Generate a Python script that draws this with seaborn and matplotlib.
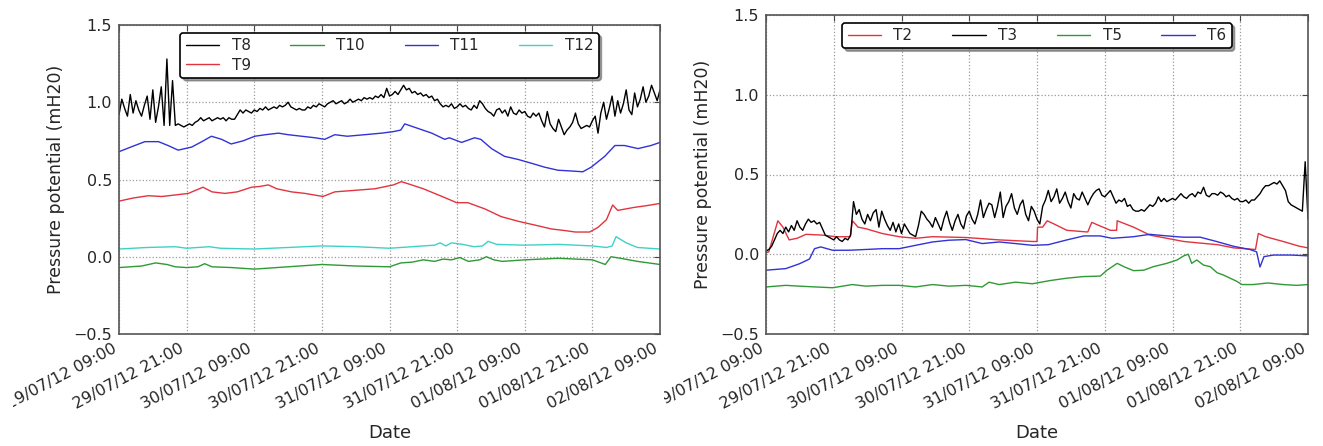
import matplotlib
matplotlib.use("Agg")
import matplotlib.dates as mdates
import matplotlib.pyplot as plt
import numpy as np
import pandas as pd
import seaborn as sns
from matplotlib.transforms import Bbox

START = pd.Timestamp("2012-07-29 09:00")
END = pd.Timestamp("2012-08-02 09:00")

# ---- left panel ----
# T8 read every half hour from 29/07 09:00
t8_vals = [
    0.92, 1.02, 0.96, 0.91, 1.05, 0.93, 1.01, 0.95, 0.91, 0.98, 1.04, 0.89,
    1.08, 0.87, 0.97, 1.10, 0.85, 1.28, 0.85, 1.14, 0.85, 0.86, 0.85, 0.84,
    0.85, 0.86, 0.85, 0.87, 0.88, 0.90, 0.88, 0.89, 0.90, 0.88, 0.89, 0.90,
    0.89, 0.90, 0.88, 0.90, 0.89, 0.89, 0.92, 0.95, 0.93, 0.95, 0.94, 0.93,
    0.95, 0.94, 0.96, 0.95, 0.97, 0.95, 0.96, 0.97, 0.96, 0.98, 0.97, 0.98,
    1.00, 0.97, 0.96, 0.95, 0.96, 0.95, 0.95, 0.97, 0.96, 0.98, 0.97, 0.99,
    0.98, 0.97, 0.99, 1.00, 1.01, 0.99, 1.00, 1.01, 0.99, 1.00, 1.02, 1.00,
    1.01, 1.02, 1.01, 1.03, 1.02, 1.03, 1.02, 1.04, 1.03, 1.05, 1.03, 1.09,
    1.04, 1.05, 1.07, 1.05, 1.08, 1.11, 1.08, 1.09, 1.06, 1.07, 1.05, 1.06,
    1.04, 1.05, 1.03, 1.04, 1.01, 1.02, 0.99, 0.97, 0.98, 0.97, 0.99, 0.96,
    0.97, 0.99, 0.97, 0.98, 0.96, 0.95, 0.98, 0.96, 1.01, 0.99, 0.96, 0.94,
    0.93, 0.91, 0.95, 0.96, 0.93, 0.95, 0.91, 0.97, 0.93, 0.92, 0.95, 0.93,
    0.94, 0.91, 0.90, 0.93, 0.91, 0.93, 0.88, 0.84, 0.94, 0.86, 0.83, 0.81,
    0.89, 0.84, 0.79, 0.82, 0.84, 0.87, 0.93, 0.86, 0.83, 0.84, 0.85, 0.84,
    0.88, 0.91, 0.80, 0.93, 1.00, 0.89, 0.96, 1.04, 0.91, 1.01, 0.93, 0.99,
    1.08, 0.95, 0.92, 1.06, 0.97, 1.02, 1.10, 1.00, 1.04, 1.11, 1.06, 1.01,
    1.08,
]
t8_hours = np.arange(len(t8_vals)) * 0.5

t9_hours = [0, 2.5, 5.2, 7.6, 10.0, 12.3, 14.9, 16.5, 18.8, 21.0, 23.5, 25.0,
            26.5, 28.0, 30.6, 33.0, 36.2, 38.3, 41.9, 45.4, 48.7, 50.1, 51.5,
            54.0, 56.0, 58.0, 59.9, 61.9, 64.9, 67.8, 70.8, 73.8, 76.7, 79.0,
            81.0, 83.5, 85.0, 86.5, 87.6, 88.5, 90.0, 91.5, 93.5, 96.0]
t9_vals = [0.36, 0.38, 0.395, 0.39, 0.40, 0.41, 0.45, 0.42, 0.41, 0.42, 0.45,
           0.455, 0.465, 0.44, 0.42, 0.41, 0.39, 0.42, 0.43, 0.44, 0.465,
           0.486, 0.47, 0.44, 0.41, 0.38, 0.35, 0.35, 0.31, 0.26, 0.23, 0.205,
           0.18, 0.17, 0.16, 0.16, 0.19, 0.24, 0.335, 0.30, 0.31, 0.32, 0.33,
           0.345]

t10_hours = [0, 4, 6.5, 8.5, 10, 12, 14, 15.2, 16.5, 20, 24, 30, 36, 42, 48,
             50, 52, 54, 56, 57.5, 59, 60.5, 62, 64, 65.2, 66.5, 68, 72, 78,
             84, 86.3, 87.3, 89, 92, 96]
t10_vals = [-0.07, -0.06, -0.04, -0.05, -0.065, -0.07, -0.065, -0.045, -0.065,
            -0.07, -0.08, -0.065, -0.05, -0.06, -0.065, -0.04, -0.035, -0.02,
            -0.03, -0.015, -0.02, -0.005, -0.03, -0.02, 0.0, -0.02, -0.03,
            -0.02, -0.01, -0.02, -0.05, 0.0, -0.01, -0.03, -0.05]

t11_hours = [0, 2.8, 4.6, 7.0, 8.7, 10.5, 12.9, 14.7, 16.4, 18.2, 19.9, 22.0,
             24.1, 26.0, 28.3, 30.0, 32.4, 34.8, 36.5, 38.3, 40.5, 43.6, 46.6,
             48.7, 50.0, 50.7, 51.5, 53.1, 55.5, 57.8, 58.6, 60.8, 63.1, 64.2,
             66.1, 68.4, 70.8, 73.2, 75.5, 77.9, 80.3, 82.3, 83.8, 86.2, 88.0,
             89.7, 92.1, 94.4, 96.0]
t11_vals = [0.68, 0.72, 0.745, 0.745, 0.72, 0.69, 0.71, 0.745, 0.78, 0.76,
            0.73, 0.75, 0.78, 0.79, 0.80, 0.79, 0.78, 0.77, 0.76, 0.79, 0.78,
            0.79, 0.80, 0.81, 0.82, 0.86, 0.85, 0.83, 0.80, 0.76, 0.77, 0.74,
            0.77, 0.76, 0.70, 0.65, 0.63, 0.605, 0.58, 0.56, 0.555, 0.55, 0.58,
            0.65, 0.72, 0.72, 0.70, 0.72, 0.74]

t12_hours = [0, 5, 10, 12, 16, 18, 24, 30, 36, 42, 48, 54, 56, 57, 58, 59, 61,
             63, 64.5, 65.5, 67, 72, 78, 84, 86.5, 87.5, 88.2, 90, 92, 96]
t12_vals = [0.05, 0.06, 0.065, 0.055, 0.065, 0.055, 0.05, 0.06, 0.07, 0.065,
            0.055, 0.07, 0.075, 0.09, 0.07, 0.09, 0.08, 0.065, 0.07, 0.10,
            0.08, 0.075, 0.08, 0.07, 0.06, 0.07, 0.13, 0.09, 0.06, 0.05]

# ---- right panel ----
t2_hours = [0, 0.5, 2.1, 3.0, 4.1, 5.5, 7.1, 10.0, 12.4, 14.9, 15.3, 16.3,
            17.7, 20.6, 23.6, 26.5, 29.5, 35.4, 41.3, 47.2, 48.0, 48.1, 49.0,
            49.8, 51.0, 53.3, 56.8, 57.0, 57.7, 59.0, 61.0, 62.1, 62.2, 65.1,
            68.0, 71.0, 74.0, 76.9, 80.0, 82.8, 86.6, 86.7, 87.2, 88.5, 91.6,
            94.5, 96.0]
t2_vals = [0.01, 0.015, 0.21, 0.17, 0.09, 0.10, 0.125, 0.12, 0.11, 0.11, 0.21,
           0.17, 0.16, 0.13, 0.11, 0.10, 0.11, 0.105, 0.09, 0.08, 0.08, 0.17,
           0.17, 0.21, 0.19, 0.15, 0.14, 0.14, 0.20, 0.18, 0.15, 0.15, 0.21,
           0.17, 0.12, 0.10, 0.08, 0.07, 0.06, 0.04, 0.03, 0.03, 0.13, 0.11,
           0.08, 0.05, 0.04]

# T3 read every half hour
t3_vals = [
    0.02, 0.03, 0.05, 0.09, 0.13, 0.15, 0.13, 0.17, 0.14, 0.18, 0.15, 0.21,
    0.17, 0.15, 0.19, 0.22, 0.20, 0.21, 0.19, 0.20, 0.16, 0.12, 0.11, 0.10,
    0.09, 0.11, 0.09, 0.08, 0.10, 0.09, 0.12, 0.33, 0.25, 0.28, 0.22, 0.19,
    0.25, 0.21, 0.26, 0.28, 0.17, 0.27, 0.22, 0.18, 0.15, 0.20, 0.14, 0.19,
    0.13, 0.19, 0.16, 0.13, 0.12, 0.11, 0.18, 0.27, 0.25, 0.22, 0.20, 0.17,
    0.23, 0.19, 0.15, 0.22, 0.27, 0.20, 0.15, 0.21, 0.25, 0.19, 0.16, 0.24,
    0.27, 0.22, 0.19, 0.25, 0.34, 0.23, 0.28, 0.32, 0.31, 0.23, 0.30, 0.39,
    0.23, 0.30, 0.33, 0.38, 0.29, 0.25, 0.31, 0.34, 0.25, 0.21, 0.30, 0.27,
    0.22, 0.19, 0.30, 0.34, 0.40, 0.33, 0.36, 0.41, 0.32, 0.35, 0.39, 0.33,
    0.29, 0.38, 0.35, 0.34, 0.39, 0.35, 0.31, 0.35, 0.38, 0.40, 0.41, 0.37,
    0.36, 0.38, 0.40, 0.36, 0.32, 0.34, 0.33, 0.35, 0.30, 0.31, 0.28, 0.27,
    0.27, 0.28, 0.27, 0.29, 0.31, 0.30, 0.32, 0.36, 0.33, 0.35, 0.33, 0.34,
    0.35, 0.34, 0.36, 0.38, 0.36, 0.35, 0.37, 0.38, 0.36, 0.39, 0.38, 0.42,
    0.37, 0.36, 0.38, 0.38, 0.37, 0.39, 0.38, 0.36, 0.37, 0.35, 0.34, 0.35,
    0.33, 0.33, 0.34, 0.32, 0.34, 0.34, 0.36, 0.38, 0.41, 0.43, 0.43, 0.44,
    0.45, 0.44, 0.46, 0.43, 0.40, 0.33, 0.31, 0.30, 0.29, 0.28, 0.27, 0.58,
    0.22,
]
t3_hours = np.arange(len(t3_vals)) * 0.5

t5_hours = [0, 3.5, 5.9, 8.8, 11.8, 15.3, 17.7, 20.6, 23.6, 26.5, 29.5, 32.4,
            35.4, 38.3, 39.5, 41.3, 44.2, 47.2, 50.3, 53.3, 56.2, 59.2, 60.4,
            62.2, 63.4, 65.1, 66.9, 68.6, 71.0, 72.8, 74.0, 74.8, 75.4, 76.3,
            77.5, 78.7, 79.9, 81.0, 82.2, 83.4, 84.3, 86.3, 88.9, 91.6, 94.0,
            96.0]
t5_vals = [-0.205, -0.195, -0.2, -0.205, -0.21, -0.19, -0.2, -0.195, -0.195,
           -0.205, -0.19, -0.2, -0.195, -0.205, -0.175, -0.19, -0.175, -0.185,
           -0.165, -0.15, -0.14, -0.137, -0.10, -0.057, -0.078, -0.103, -0.10,
           -0.078, -0.057, -0.036, -0.01, 0.0, -0.057, -0.036, -0.068, -0.078,
           -0.116, -0.13, -0.15, -0.17, -0.19, -0.19, -0.18, -0.19, -0.195,
           -0.19]

t6_hours = [0, 3.5, 5.9, 7.7, 8.6, 9.7, 11.8, 14.7, 17.7, 20.6, 23.6, 26.5,
            29.5, 32.4, 35.4, 38.3, 41.3, 44.2, 47.2, 50.0, 53.3, 56.3, 59.2,
            61.3, 65.1, 68.0, 71.0, 73.9, 76.9, 79.8, 82.8, 85.7, 86.9, 87.5,
            88.2, 89.9, 93.0, 96.0]
t6_vals = [-0.1, -0.09, -0.06, -0.03, 0.035, 0.046, 0.025, 0.025, 0.03, 0.035,
           0.035, 0.056, 0.077, 0.088, 0.092, 0.067, 0.077, 0.067, 0.056, 0.06,
           0.09, 0.115, 0.115, 0.10, 0.11, 0.125, 0.115, 0.107, 0.107, 0.08,
           0.05, 0.03, 0.015, -0.08, -0.015, -0.005, -0.005, -0.01]

left_series = {
    "T8": (t8_hours, t8_vals),
    "T9": (t9_hours, t9_vals),
    "T10": (t10_hours, t10_vals),
    "T11": (t11_hours, t11_vals),
    "T12": (t12_hours, t12_vals),
}
right_series = {
    "T2": (t2_hours, t2_vals),
    "T3": (t3_hours, t3_vals),
    "T5": (t5_hours, t5_vals),
    "T6": (t6_hours, t6_vals),
}

colors = {
    "T8": "#000000", "T9": "#e2343f", "T10": "#2f9a35", "T11": "#3232d6",
    "T12": "#3fd2c4", "T2": "#e2343f", "T3": "#000000", "T5": "#2f9a35",
    "T6": "#3232d6",
}


def to_long(series):
    frames = []
    for name, (hours, vals) in series.items():
        frames.append(pd.DataFrame({
            "Date": START + pd.to_timedelta(np.asarray(hours, dtype=float), unit="h"),
            "value": vals,
            "sensor": name,
        }))
    return pd.concat(frames, ignore_index=True)


sns.set_style("white")
plt.rcParams["font.family"] = ["DejaVu Sans"]
plt.rcParams["axes.unicode_minus"] = True

fig = plt.figure(figsize=(13.23, 4.46), dpi=100)
W, H = 1323, 446
ax1 = fig.add_axes([119 / W, (H - 334) / H, 541 / W, 309 / H])
ax2 = fig.add_axes([766 / W, (H - 334) / H, 542 / W, 319 / H])

for ax, series in ((ax1, left_series), (ax2, right_series)):
    df = to_long(series)
    order = list(series.keys())
    sns.lineplot(data=df, x="Date", y="value", hue="sensor", hue_order=order,
                 palette=colors, estimator=None, sort=True, linewidth=1.0, ax=ax)
    handles, labels = ax.get_legend_handles_labels()
    ax.legend(handles, labels, loc="upper center", ncol=4, fontsize=11,
              frameon=True, fancybox=True, shadow=True, framealpha=1,
              edgecolor="black", columnspacing=2.6, handlelength=2.2,
              borderaxespad=0.5, borderpad=0.35, labelspacing=0.3)
    ax.get_legend().get_frame().set_linewidth(1.2)

    ax.set_xlim(START, END)
    ax.set_ylim(-0.5, 1.5)
    ax.set_yticks([-0.5, 0.0, 0.5, 1.0, 1.5])
    ax.xaxis.set_major_locator(mdates.HourLocator(byhour=[9, 21]))
    ax.xaxis.set_major_formatter(mdates.DateFormatter("%d/%m/%y %H:%M"))
    ax.grid(True, linestyle=":", color="#9a9a9a", linewidth=0.9)
    ax.tick_params(axis="both", direction="in", top=True, right=True,
                   length=4, width=0.8, color="#444444", pad=5)
    ax.tick_params(axis="x", labelsize=11.5)
    ax.tick_params(axis="y", labelsize=11.5)
    for lab in ax.get_xticklabels():
        lab.set_rotation(28)
        lab.set_ha("right")
    for sp in ax.spines.values():
        sp.set_color("#555555")
        sp.set_linewidth(1.2)
    ax.set_xlabel("Date", fontsize=13, labelpad=9)
    ax.set_ylabel("Pressure potential (mH20)", fontsize=12.5, labelpad=6)

fig.canvas.draw()
# both panels were cropped at their left edge, so the first date label is cut
for ax, x0 in ((ax1, 13), (ax2, 664)):
    clip = Bbox.from_extents(x0, 0, W, H)
    for lab in ax.get_xticklabels():
        lab.set_clip_box(clip)
        lab.set_clip_on(True)

fig.savefig("out.png", dpi=100)
